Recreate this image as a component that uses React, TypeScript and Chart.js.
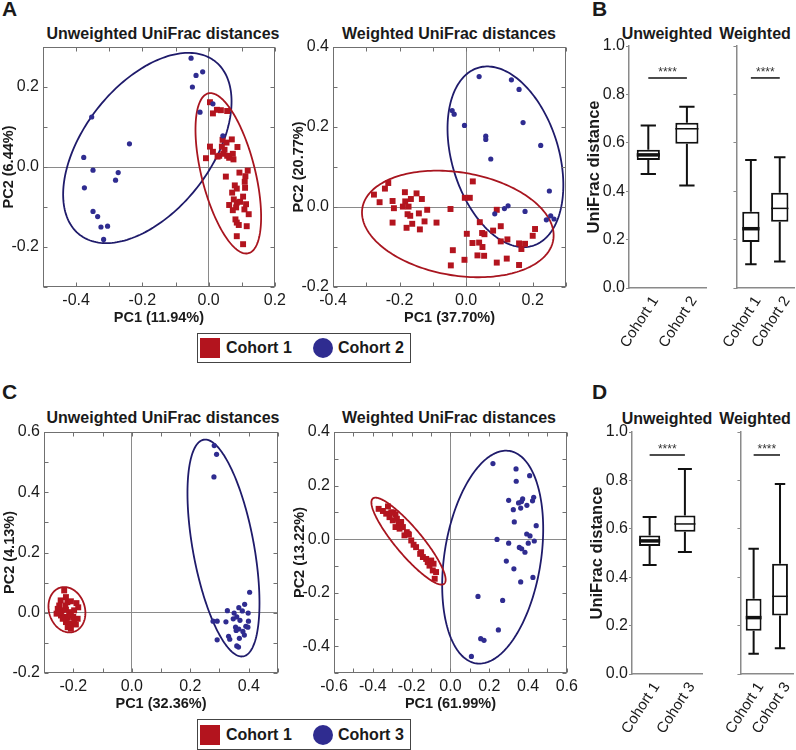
import React, { useEffect, useRef } from 'react';
import { Chart, registerables } from 'chart.js';

Chart.register(...registerables);

const FONT = '"Liberation Sans", Arial, Helvetica, sans-serif';
const RED = '#b3141e';
const BLUE = '#2f2c90';
const RED_LINE = '#a8151f';
const BLUE_LINE = '#1f1b6b';
const FRAME = '#707070';
const TEXT = '#1a1a1a';

type Pt = [number, number];
type Ell = [number, number, number, number, number, number]; // cx, cy, u(x,y), v(x,y)

// ---------- Panel A: Cohort 1 vs Cohort 2 ----------
const A_UNW_COHORT1: Pt[] = [
  [0.004, 0.162], [0.013, 0.134], [0.025, 0.143], [0.037, 0.142], [0.056, 0.14],
  [0.042, 0.068], [0.07, 0.069], [0.054, 0.061], [0.087, 0.05], [0.004, 0.051],
  [0.013, 0.038], [0.04, 0.051], [0.032, 0.028], [0.044, 0.033], [0.056, 0.028],
  [0.073, 0.033], [-0.008, 0.022], [0.048, 0.043], [0.027, 0.026], [0.062, 0.023],
  [0.075, 0.019], [0.093, -0.014], [0.118, -0.009], [0.111, -0.023], [0.052, -0.024],
  [0.109, -0.037], [0.079, -0.046], [0.085, -0.054], [0.11, -0.052], [0.071, -0.064],
  [0.104, -0.074], [0.076, -0.081], [0.062, -0.095], [0.085, -0.089], [0.095, -0.087],
  [0.113, -0.093], [0.083, -0.101], [0.108, -0.106], [0.121, -0.118], [0.073, -0.108],
  [0.081, -0.131], [0.085, -0.139], [0.091, -0.145], [0.115, -0.148], [0.085, -0.173],
  [0.104, -0.193],
];
const A_UNW_COHORT2: Pt[] = [
  [-0.053, 0.272], [-0.018, 0.238], [-0.038, 0.229], [-0.049, 0.2], [0.013, 0.158],
  [-0.026, 0.137], [-0.353, 0.125], [0.043, 0.078], [-0.239, 0.058], [-0.377, 0.024],
  [-0.349, -0.008], [-0.273, -0.014], [-0.281, -0.033], [-0.375, -0.052], [-0.349, -0.111],
  [-0.335, -0.124], [-0.325, -0.15], [-0.305, -0.148], [-0.317, -0.181],
];
const A_UNW_ELL1: Ell = [0.0594, -0.0158, 0.0479, -0.2, -0.0867, 0.0142];
const A_UNW_ELL2: Ell = [-0.185, 0.0475, 0.2045, 0.2167, 0.151, -0.098];

const A_W_COHORT1: Pt[] = [
  [-0.234, 0.06], [-0.244, 0.046], [-0.277, 0.031], [-0.26, 0.012], [-0.221, 0.015],
  [-0.217, -0.003], [-0.221, -0.039], [-0.184, 0.037], [-0.183, 0.014], [-0.19, 0.001],
  [-0.173, 0.001], [-0.176, -0.018], [-0.168, -0.022], [-0.179, -0.052], [-0.162, -0.042],
  [-0.149, 0.034], [-0.166, 0.02], [-0.133, 0.02], [-0.142, -0.016], [-0.139, -0.056],
  [-0.125, -0.036], [-0.117, -0.007], [-0.089, -0.039], [-0.047, -0.005], [-0.04, -0.108],
  [-0.046, -0.146], [-0.004, 0.023], [0.011, 0.023], [0.002, -0.067], [-0.005, -0.132],
  [0.02, 0.064], [0.041, -0.038], [0.048, -0.065], [0.055, -0.068], [0.019, -0.09],
  [0.039, -0.089], [0.049, -0.1], [0.034, -0.121], [0.054, -0.122], [0.081, -0.059],
  [0.092, -0.007], [0.104, -0.048], [0.104, -0.086], [0.124, -0.081], [0.092, -0.139],
  [0.122, -0.129], [0.159, -0.091], [0.166, -0.105], [0.177, -0.092], [0.2, -0.072],
  [0.207, -0.055], [0.159, -0.145],
];
const A_W_COHORT2: Pt[] = [
  [0.039, 0.326], [0.136, 0.318], [0.159, 0.294], [-0.042, 0.241], [-0.036, 0.232],
  [-0.005, 0.204], [0.171, 0.211], [0.059, 0.177], [0.059, 0.169], [0.224, 0.154],
  [0.074, 0.12], [0.25, 0.04], [0.126, 0.003], [0.115, -0.004], [0.086, -0.017],
  [0.177, -0.011], [0.254, -0.022], [0.241, -0.032], [0.264, -0.03],
];
const A_W_ELL1: Ell = [-0.025, -0.0424, 0.2867, -0.0402, -0.026, -0.127];
const A_W_ELL2: Ell = [0.118, 0.1255, 0.082, -0.2225, 0.1534, 0.0388];

// ---------- Panel C: Cohort 1 vs Cohort 3 ----------
const C_UNW_COHORT1: Pt[] = [
  [-0.231, 0.074], [-0.225, 0.052], [-0.243, 0.041], [-0.22, 0.035], [-0.208, 0.038],
  [-0.189, 0.032], [-0.183, 0.018], [-0.248, 0.024], [-0.253, 0.013], [-0.239, 0.008],
  [-0.225, 0.01], [-0.214, 0.002], [-0.197, 0.008], [-0.257, -0.003], [-0.242, -0.009],
  [-0.231, -0.014], [-0.219, -0.017], [-0.208, -0.009], [-0.2, -0.014], [-0.225, -0.031],
  [-0.214, -0.037], [-0.202, -0.037], [-0.191, -0.039], [-0.219, -0.048], [-0.208, -0.053],
  [-0.236, -0.02], [-0.248, 0.002], [-0.197, -0.025], [-0.185, -0.02], [-0.227, 0.024],
];
const C_UNW_COHORT3: Pt[] = [
  [0.282, 0.555], [0.29, 0.526], [0.281, 0.451], [0.403, 0.068], [0.386, 0.028],
  [0.366, 0.017], [0.327, 0.007], [0.35, -0.001], [0.378, 0.006], [0.398, -0.001],
  [0.278, -0.028], [0.292, -0.028], [0.322, -0.03], [0.347, -0.02], [0.359, -0.014],
  [0.37, -0.025], [0.399, -0.028], [0.355, -0.048], [0.366, -0.054], [0.39, -0.045],
  [0.38, -0.062], [0.385, -0.074], [0.331, -0.078], [0.335, -0.088], [0.368, -0.085],
  [0.359, -0.11], [0.365, -0.114], [0.292, -0.09], [0.357, -0.059], [0.397, -0.048],
];
const C_UNW_ELL1: Ell = [-0.2216, 0.01, -0.009, 0.0753, 0.0625, 0];
const C_UNW_ELL3: Ell = [0.3136, 0.2148, 0.0677, -0.3595, 0.1028, 0.0184];

const C_W_COHORT1: Pt[] = [
  [-0.37, 0.113], [-0.348, 0.105], [-0.322, 0.122], [-0.331, 0.095], [-0.314, 0.082],
  [-0.293, 0.099], [-0.283, 0.092], [-0.297, 0.07], [-0.276, 0.076], [-0.283, 0.045],
  [-0.266, 0.057], [-0.262, 0.039], [-0.245, 0.045], [-0.237, 0.014], [-0.225, 0.026],
  [-0.214, 0.017], [-0.19, -0.021], [-0.177, -0.03], [-0.156, -0.055], [-0.142, -0.067],
  [-0.125, -0.074], [-0.117, -0.086], [-0.099, -0.08], [-0.108, -0.099], [-0.087, -0.092],
  [-0.091, -0.117], [-0.074, -0.123], [-0.081, -0.148], [-0.305, 0.1], [-0.254, 0.064],
  [-0.219, 0.02], [-0.202, -0.005], [-0.151, -0.049],
];
const C_W_COHORT3: Pt[] = [
  [0.219, 0.282], [0.338, 0.262], [0.339, 0.216], [0.408, 0.237], [0.3, 0.145],
  [0.324, 0.11], [0.351, 0.135], [0.372, 0.15], [0.362, 0.116], [0.394, 0.126],
  [0.423, 0.143], [0.429, 0.156], [0.442, 0.05], [0.329, 0.064], [0.24, -0.001],
  [0.3, -0.015], [0.393, 0.019], [0.41, 0.012], [0.432, -0.007], [0.401, -0.015],
  [0.355, -0.031], [0.367, -0.036], [0.384, -0.049], [0.288, -0.082], [0.327, -0.111],
  [0.362, -0.16], [0.425, -0.143], [0.142, -0.214], [0.269, -0.229], [0.247, -0.339],
  [0.156, -0.372], [0.173, -0.378], [0.108, -0.438], [0.366, 0.14],
];
const C_W_ELL1: Ell = [-0.216, -0.0075, 0.184, -0.159, 0.0523, 0.0322];
const C_W_ELL3: Ell = [0.2177, -0.0673, 0.0864, 0.3965, 0.2455, -0.0283];

// ---------- Box plots (UniFrac distance) ----------
const B_LABELS = ['Cohort 1', 'Cohort 2'];
const D_LABELS = ['Cohort 1', 'Cohort 3'];

const B_UNW_MIN = [0.471, 0.424];
const B_UNW_Q1 = [0.529, 0.596];
const B_UNW_MED = [0.55, 0.658];
const B_UNW_Q3 = [0.571, 0.683];
const B_UNW_MAX = [0.671, 0.749];

const B_W_MIN = [0.098, 0.11];
const B_W_Q1 = [0.19, 0.274];
const B_W_MED = [0.245, 0.329];
const B_W_Q3 = [0.315, 0.394];
const B_W_MAX = [0.529, 0.54];

const D_UNW_MIN = [0.45, 0.504];
const D_UNW_Q1 = [0.529, 0.588];
const D_UNW_MED = [0.55, 0.62];
const D_UNW_Q3 = [0.572, 0.655];
const D_UNW_MAX = [0.649, 0.847];

const D_W_MIN = [0.084, 0.106];
const D_W_Q1 = [0.179, 0.242];
const D_W_MED = [0.233, 0.321];
const D_W_Q3 = [0.311, 0.456];
const D_W_MAX = [0.518, 0.785];

const B_SIG = [0.868, 0.903]; // bracket line, stars
const D_SIG = [0.905, 0.94];

const LEGEND_TOP = ['Cohort 1', 'Cohort 2'];
const LEGEND_BOTTOM = ['Cohort 1', 'Cohort 3'];

function fmt(v: number) {
  const r = Math.round(v * 10) / 10;
  return (r === 0 ? 0 : r).toFixed(1);
}
function isEven(v: number) {
  return Math.abs(Math.round(v * 10)) % 2 === 0;
}

interface ScatterProps {
  area: [number, number, number, number];
  xRange: [number, number];
  yRange: [number, number];
  c1: Pt[];
  c2: Pt[];
  e1: Ell;
  e2: Ell;
  xTitle: string;
  yTitle: string;
}

function ScatterPanel({ area, xRange, yRange, c1, c2, e1, e2, xTitle, yTitle }: ScatterProps) {
  const ref = useRef<HTMLCanvasElement>(null);
  const [l, t, r, b] = area;
  const cl = l - 43;
  const ct = t - 47;
  const w = r - l + 57;
  const h = b - t + 90;
  useEffect(() => {
    const ellipsePlugin = {
      id: 'pcoaEllipses',
      beforeDatasetsDraw(chart: any) {
        const { ctx, scales } = chart;
        const xs = scales.x;
        const ys = scales.y;
        const list: [Ell, string][] = [[e2, BLUE_LINE], [e1, RED_LINE]];
        list.forEach(([e, col]) => {
          const [cx, cy, ux, uy, vx, vy] = e;
          ctx.save();
          ctx.beginPath();
          const n = 200;
          for (let i = 0; i <= n; i++) {
            const a = (i / n) * Math.PI * 2;
            const px = xs.getPixelForValue(cx + ux * Math.cos(a) + vx * Math.sin(a));
            const py = ys.getPixelForValue(cy + uy * Math.cos(a) + vy * Math.sin(a));
            if (i === 0) ctx.moveTo(px, py);
            else ctx.lineTo(px, py);
          }
          ctx.closePath();
          ctx.lineWidth = 1.8;
          ctx.strokeStyle = col;
          ctx.stroke();
          ctx.restore();
        });
      },
    };
    const framePlugin = {
      id: 'pcoaFrame',
      afterDraw(chart: any) {
        const { ctx, chartArea, scales } = chart;
        const L = Math.round(chartArea.left) + 0.5;
        const R = Math.round(chartArea.right) - 0.5;
        const T = Math.round(chartArea.top) + 0.5;
        const B = Math.round(chartArea.bottom) - 0.5;
        ctx.save();
        ctx.strokeStyle = FRAME;
        ctx.lineWidth = 1;
        ctx.strokeRect(L, T, R - L, B - T);
        ctx.beginPath();
        const tl = 4;
        scales.x.ticks.forEach((tk: any) => {
          const px = Math.round(scales.x.getPixelForValue(tk.value)) + 0.5;
          ctx.moveTo(px, B);
          ctx.lineTo(px, B - tl);
          ctx.moveTo(px, T);
          ctx.lineTo(px, T + tl);
        });
        scales.y.ticks.forEach((tk: any) => {
          const py = Math.round(scales.y.getPixelForValue(tk.value)) + 0.5;
          ctx.moveTo(L, py);
          ctx.lineTo(L + tl, py);
          ctx.moveTo(R, py);
          ctx.lineTo(R - tl, py);
        });
        ctx.stroke();
        ctx.restore();
      },
    };
    const tickFont = { family: FONT, size: 16 };
    const titleFont = { family: FONT, size: 14.5, weight: 'bold' as const };
    const zeroGrid = (ctx: any) =>
      ctx.tick && Math.abs(ctx.tick.value) < 1e-9 ? '#8a8a8a' : 'rgba(0,0,0,0)';
    const chart = new Chart(ref.current as HTMLCanvasElement, {
      type: 'scatter',
      data: {
        datasets: [
          {
            data: c2.map(([x, y]) => ({ x, y })),
            pointStyle: 'circle',
            pointRadius: 2.6,
            backgroundColor: BLUE,
            borderWidth: 0,
          },
          {
            data: c1.map(([x, y]) => ({ x, y })),
            pointStyle: 'rect',
            pointRadius: 4.2,
            backgroundColor: RED,
            borderWidth: 0,
          },
        ],
      },
      options: {
        animation: false,
        responsive: false,
        maintainAspectRatio: false,
        events: [],
        layout: { padding: { top: 47, right: 14, left: 0, bottom: 0 } },
        plugins: { legend: { display: false }, tooltip: { enabled: false } },
        scales: {
          x: {
            type: 'linear',
            min: xRange[0],
            max: xRange[1],
            afterFit: (s: any) => {
              s.height = 43;
            },
            ticks: {
              stepSize: 0.1,
              autoSkip: false,
              maxRotation: 0,
              padding: 4,
              color: TEXT,
              font: tickFont,
              callback: (v: any) => (isEven(Number(v)) ? fmt(Number(v)) : ''),
            },
            grid: { drawTicks: false, color: zeroGrid, lineWidth: 1 },
            border: { display: false },
            title: {
              display: true,
              text: xTitle,
              color: TEXT,
              font: titleFont,
              padding: { top: 0, bottom: 3 },
            },
          },
          y: {
            type: 'linear',
            min: yRange[0],
            max: yRange[1],
            afterFit: (s: any) => {
              s.width = 43;
            },
            ticks: {
              stepSize: 0.1,
              autoSkip: false,
              padding: 4,
              color: TEXT,
              font: tickFont,
              callback: (v: any) => (isEven(Number(v)) ? fmt(Number(v)) : ''),
            },
            grid: { drawTicks: false, color: zeroGrid, lineWidth: 1 },
            border: { display: false },
            title: {
              display: true,
              text: yTitle,
              color: TEXT,
              font: titleFont,
              padding: { top: 0, bottom: 0 },
            },
          },
        },
      },
      plugins: [ellipsePlugin, framePlugin],
    } as any);
    return () => chart.destroy();
  }, []);
  return (
    <canvas
      ref={ref}
      width={w}
      height={h}
      style={{ position: 'absolute', left: cl, top: ct, width: w, height: h }}
    />
  );
}

interface BoxProps {
  area: [number, number, number, number];
  labels: string[];
  mins: number[];
  q1s: number[];
  meds: number[];
  q3s: number[];
  maxs: number[];
  sig: number[];
  showY: boolean;
}

function BoxPanel({ area, labels, mins, q1s, meds, q3s, maxs, sig, showY }: BoxProps) {
  const ref = useRef<HTMLCanvasElement>(null);
  const [l, t, r, b] = area;
  const yw = showY ? 52 : 8;
  const cl = l - yw;
  const ct = t - 47;
  const w = r - cl;
  const h = b - t + 47 + 75;
  useEffect(() => {
    const medWidths = [3.5, 1.5];
    const boxPlugin = {
      id: 'boxWhiskers',
      afterDatasetsDraw(chart: any) {
        const { ctx, scales } = chart;
        const ys = scales.y;
        const meta = chart.getDatasetMeta(0);
        ctx.save();
        ctx.strokeStyle = '#111';
        meta.data.forEach((el: any, i: number) => {
          const cx = el.x;
          const bw = el.width;
          const cap = bw * 0.33;
          const yMax = ys.getPixelForValue(maxs[i]);
          const yQ3 = ys.getPixelForValue(q3s[i]);
          const yQ1 = ys.getPixelForValue(q1s[i]);
          const yMin = ys.getPixelForValue(mins[i]);
          const yMed = ys.getPixelForValue(meds[i]);
          ctx.lineWidth = 2;
          ctx.beginPath();
          ctx.moveTo(cx, yQ3);
          ctx.lineTo(cx, yMax);
          ctx.moveTo(cx - cap, yMax);
          ctx.lineTo(cx + cap, yMax);
          ctx.moveTo(cx, yQ1);
          ctx.lineTo(cx, yMin);
          ctx.moveTo(cx - cap, yMin);
          ctx.lineTo(cx + cap, yMin);
          ctx.stroke();
          ctx.lineWidth = medWidths[i];
          ctx.beginPath();
          ctx.moveTo(cx - bw / 2, yMed);
          ctx.lineTo(cx + bw / 2, yMed);
          ctx.stroke();
        });
        const x0 = meta.data[0].x;
        const x1 = meta.data[1].x;
        const yl = ys.getPixelForValue(sig[0]);
        ctx.lineWidth = 1.5;
        ctx.beginPath();
        ctx.moveTo(x0, yl);
        ctx.lineTo(x1, yl);
        ctx.stroke();
        ctx.fillStyle = '#333';
        ctx.font = `12px ${FONT}`;
        ctx.textAlign = 'center';
        ctx.textBaseline = 'middle';
        ctx.fillText('****', (x0 + x1) / 2, ys.getPixelForValue(sig[1]) + 3);
        ctx.restore();
      },
    };
    const chart = new Chart(ref.current as HTMLCanvasElement, {
      type: 'bar',
      data: {
        labels,
        datasets: [
          {
            data: q1s.map((q, i) => [q, q3s[i]]),
            backgroundColor: '#ffffff',
            borderColor: '#111',
            borderWidth: 2,
            borderSkipped: false,
            barPercentage: 0.6,
            categoryPercentage: 1,
          },
        ],
      },
      options: {
        animation: false,
        responsive: false,
        maintainAspectRatio: false,
        events: [],
        layout: { padding: { top: 47, right: 0, left: 0, bottom: 0 } },
        plugins: { legend: { display: false }, tooltip: { enabled: false } },
        scales: {
          x: {
            type: 'category',
            offset: true,
            afterFit: (s: any) => {
              s.height = 75;
            },
            grid: { display: false, drawTicks: false },
            border: { display: true, color: '#8a8a8a', width: 1.5 },
            ticks: {
              minRotation: 57,
              maxRotation: 57,
              autoSkip: false,
              padding: 5,
              labelOffset: 7,
              color: TEXT,
              font: { family: FONT, size: 15 },
            },
          },
          y: {
            type: 'linear',
            min: 0,
            max: 1,
            afterFit: (s: any) => {
              s.width = yw;
            },
            ticks: {
              display: showY,
              stepSize: 0.2,
              padding: 1,
              color: TEXT,
              font: { family: FONT, size: 16 },
              callback: (v: any) => fmt(Number(v)),
            },
            grid: { drawOnChartArea: false, drawTicks: true, tickLength: 3, color: '#8a8a8a' },
            border: { display: true, color: '#8a8a8a', width: 1.5 },
            title: {
              display: showY,
              text: 'UniFrac distance',
              color: TEXT,
              font: { family: FONT, size: 16.5, weight: 'bold' },
              padding: { top: 8, bottom: 0 },
            },
          },
        },
      },
      plugins: [boxPlugin],
    } as any);
    return () => chart.destroy();
  }, []);
  return (
    <canvas
      ref={ref}
      width={w}
      height={h}
      style={{ position: 'absolute', left: cl, top: ct, width: w, height: h }}
    />
  );
}

function Label({
  x,
  y,
  text,
  size,
  align = 'center',
  bold = true,
}: {
  x: number;
  y: number;
  text: string;
  size: number;
  align?: 'center' | 'left';
  bold?: boolean;
}) {
  return (
    <div
      style={{
        position: 'absolute',
        left: x,
        top: y - size / 2,
        transform: align === 'center' ? 'translateX(-50%)' : undefined,
        fontFamily: FONT,
        fontSize: size,
        lineHeight: `${size}px`,
        fontWeight: bold ? 700 : 400,
        color: TEXT,
        whiteSpace: 'nowrap',
      }}
    >
      {text}
    </div>
  );
}

function Legend({ top, height, labels }: { top: number; height: number; labels: string[] }) {
  const inner = height - 2;
  const sq = (inner - 20) / 2;
  return (
    <div
      style={{
        position: 'absolute',
        left: 197,
        top,
        width: 214,
        height,
        boxSizing: 'border-box',
        border: '1px solid #444',
        background: '#fff',
      }}
    >
      <div style={{ position: 'absolute', left: 2, top: sq, width: 20, height: 20, background: RED }} />
      <div
        style={{
          position: 'absolute',
          left: 28,
          top: inner / 2 - 8,
          fontFamily: FONT,
          fontSize: 16,
          lineHeight: '16px',
          fontWeight: 700,
          color: TEXT,
          whiteSpace: 'nowrap',
        }}
      >
        {labels[0]}
      </div>
      <div
        style={{
          position: 'absolute',
          left: 115,
          top: sq,
          width: 20,
          height: 20,
          borderRadius: '50%',
          background: BLUE,
        }}
      />
      <div
        style={{
          position: 'absolute',
          left: 140,
          top: inner / 2 - 8,
          fontFamily: FONT,
          fontSize: 16,
          lineHeight: '16px',
          fontWeight: 700,
          color: TEXT,
          whiteSpace: 'nowrap',
        }}
      >
        {labels[1]}
      </div>
    </div>
  );
}

export default function App() {
  return (
    <div
      style={{
        position: 'absolute',
        left: 0,
        top: 0,
        width: 796,
        height: 750,
        background: '#fff',
        overflow: 'hidden',
      }}
    >
      <Label x={2} y={8} text="A" size={21} align="left" />
      <Label x={592} y={8} text="B" size={21} align="left" />
      <Label x={2} y={391} text="C" size={21} align="left" />
      <Label x={592} y={391} text="D" size={21} align="left" />

      <Label x={163} y={34} text="Unweighted UniFrac distances" size={16} />
      <Label x={449} y={34} text="Weighted UniFrac distances" size={16} />
      <Label x={163} y={418} text="Unweighted UniFrac distances" size={16} />
      <Label x={449} y={418} text="Weighted UniFrac distances" size={16} />

      <Label x={667} y={34} text="Unweighted" size={16} />
      <Label x={755} y={34} text="Weighted" size={16} />
      <Label x={667} y={419} text="Unweighted" size={16} />
      <Label x={755} y={419} text="Weighted" size={16} />

      <ScatterPanel
        area={[43, 47, 276, 287]}
        xRange={[-0.5, 0.2]}
        yRange={[-0.3, 0.3]}
        c1={A_UNW_COHORT1}
        c2={A_UNW_COHORT2}
        e1={A_UNW_ELL1}
        e2={A_UNW_ELL2}
        xTitle="PC1 (11.94%)"
        yTitle="PC2 (6.44%)"
      />
      <ScatterPanel
        area={[333, 47, 566, 287]}
        xRange={[-0.4, 0.3]}
        yRange={[-0.2, 0.4]}
        c1={A_W_COHORT1}
        c2={A_W_COHORT2}
        e1={A_W_ELL1}
        e2={A_W_ELL2}
        xTitle="PC1 (37.70%)"
        yTitle="PC2 (20.77%)"
      />
      <ScatterPanel
        area={[44, 432, 278, 673]}
        xRange={[-0.3, 0.5]}
        yRange={[-0.2, 0.6]}
        c1={C_UNW_COHORT1}
        c2={C_UNW_COHORT3}
        e1={C_UNW_ELL1}
        e2={C_UNW_ELL3}
        xTitle="PC1 (32.36%)"
        yTitle="PC2 (4.13%)"
      />
      <ScatterPanel
        area={[334, 432, 568, 673]}
        xRange={[-0.6, 0.6]}
        yRange={[-0.5, 0.4]}
        c1={C_W_COHORT1}
        c2={C_W_COHORT3}
        e1={C_W_ELL1}
        e2={C_W_ELL3}
        xTitle="PC1 (61.99%)"
        yTitle="PC2 (13.22%)"
      />

      <BoxPanel
        area={[629, 46, 707, 288]}
        labels={B_LABELS}
        mins={B_UNW_MIN}
        q1s={B_UNW_Q1}
        meds={B_UNW_MED}
        q3s={B_UNW_Q3}
        maxs={B_UNW_MAX}
        sig={B_SIG}
        showY={true}
      />
      <BoxPanel
        area={[721, 46, 796, 288]}
        labels={B_LABELS}
        mins={B_W_MIN}
        q1s={B_W_Q1}
        meds={B_W_MED}
        q3s={B_W_Q3}
        maxs={B_W_MAX}
        sig={B_SIG}
        showY={false}
      />
      <BoxPanel
        area={[632, 432, 705, 674]}
        labels={D_LABELS}
        mins={D_UNW_MIN}
        q1s={D_UNW_Q1}
        meds={D_UNW_MED}
        q3s={D_UNW_Q3}
        maxs={D_UNW_MAX}
        sig={D_SIG}
        showY={true}
      />
      <BoxPanel
        area={[724, 432, 796, 674]}
        labels={D_LABELS}
        mins={D_W_MIN}
        q1s={D_W_Q1}
        meds={D_W_MED}
        q3s={D_W_Q3}
        maxs={D_W_MAX}
        sig={D_SIG}
        showY={false}
      />

      <Legend top={333} height={30} labels={LEGEND_TOP} />
      <Legend top={719} height={31} labels={LEGEND_BOTTOM} />
    </div>
  );
}
